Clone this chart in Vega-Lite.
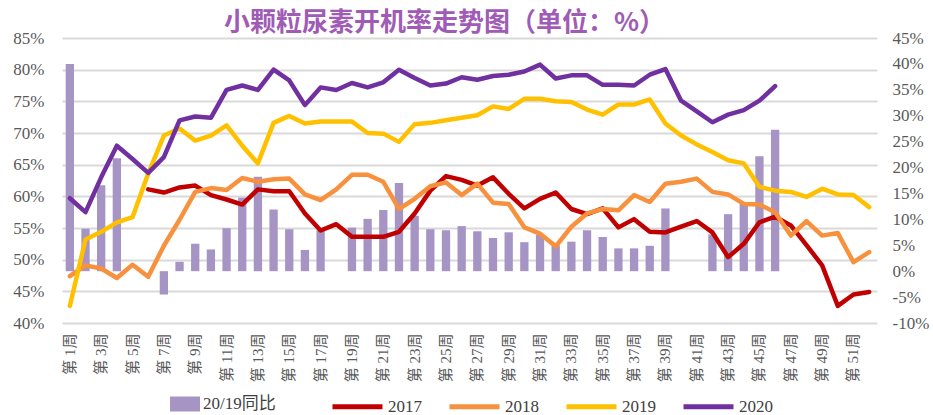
{
  "$schema": "https://vega.github.io/schema/vega-lite/v6.json",
  "width": 815,
  "height": 285,
  "autosize": {"type": "none"},
  "padding": {"left": 62, "top": 38, "right": 56, "bottom": 92},
  "background": "white",
  "title": {
    "text": "小颗粒尿素开机率走势图（单位：%）",
    "font": "Noto Sans CJK SC",
    "fontSize": 26,
    "fontWeight": "bold",
    "color": "#9F5BB5",
    "anchor": "middle",
    "dx": -25,
    "offset": -7
  },
  "datasets": {
    "bars": [
      {"week": 1, "v": 40.0}, {"week": 2, "v": 8.2}, {"week": 3, "v": 16.6}, {"week": 4, "v": 21.8},
      {"week": 7, "v": -4.5}, {"week": 8, "v": 1.8}, {"week": 9, "v": 5.3}, {"week": 10, "v": 4.2},
      {"week": 11, "v": 8.3}, {"week": 12, "v": 14.2}, {"week": 13, "v": 18.2}, {"week": 14, "v": 11.9},
      {"week": 15, "v": 8.1}, {"week": 16, "v": 4.1}, {"week": 17, "v": 7.9}, {"week": 19, "v": 8.4},
      {"week": 20, "v": 10.1}, {"week": 21, "v": 11.8}, {"week": 22, "v": 17.0}, {"week": 23, "v": 10.7},
      {"week": 24, "v": 8.1}, {"week": 25, "v": 7.9}, {"week": 26, "v": 8.7}, {"week": 27, "v": 7.7},
      {"week": 28, "v": 6.4}, {"week": 29, "v": 7.5}, {"week": 30, "v": 5.6}, {"week": 31, "v": 7.0},
      {"week": 32, "v": 5.0}, {"week": 33, "v": 5.7}, {"week": 34, "v": 7.9}, {"week": 35, "v": 6.6},
      {"week": 36, "v": 4.4}, {"week": 37, "v": 4.4}, {"week": 38, "v": 4.9}, {"week": 39, "v": 12.1},
      {"week": 42, "v": 7.1}, {"week": 43, "v": 11.0}, {"week": 44, "v": 13.0}, {"week": 45, "v": 22.2},
      {"week": 46, "v": 27.3}
    ],
    "lines": [
      {"year": "2017", "week": 6, "v": 61.1}, {"year": "2017", "week": 7, "v": 60.6}, {"year": "2017", "week": 8, "v": 61.4},
      {"year": "2017", "week": 9, "v": 61.7}, {"year": "2017", "week": 10, "v": 60.2}, {"year": "2017", "week": 11, "v": 59.5},
      {"year": "2017", "week": 12, "v": 58.7}, {"year": "2017", "week": 13, "v": 61.1}, {"year": "2017", "week": 14, "v": 60.8},
      {"year": "2017", "week": 15, "v": 60.8}, {"year": "2017", "week": 16, "v": 57.3}, {"year": "2017", "week": 17, "v": 54.6},
      {"year": "2017", "week": 18, "v": 55.6}, {"year": "2017", "week": 19, "v": 53.6}, {"year": "2017", "week": 20, "v": 53.6},
      {"year": "2017", "week": 21, "v": 53.6}, {"year": "2017", "week": 22, "v": 54.4}, {"year": "2017", "week": 23, "v": 57.3},
      {"year": "2017", "week": 24, "v": 60.9}, {"year": "2017", "week": 25, "v": 63.2}, {"year": "2017", "week": 26, "v": 62.6},
      {"year": "2017", "week": 27, "v": 61.7}, {"year": "2017", "week": 28, "v": 63.0}, {"year": "2017", "week": 29, "v": 60.4},
      {"year": "2017", "week": 30, "v": 58.1}, {"year": "2017", "week": 31, "v": 59.6}, {"year": "2017", "week": 32, "v": 60.6},
      {"year": "2017", "week": 33, "v": 58.0}, {"year": "2017", "week": 34, "v": 57.2}, {"year": "2017", "week": 35, "v": 58.1},
      {"year": "2017", "week": 36, "v": 55.1}, {"year": "2017", "week": 37, "v": 56.4}, {"year": "2017", "week": 38, "v": 54.4},
      {"year": "2017", "week": 39, "v": 54.3}, {"year": "2017", "week": 40, "v": 55.2}, {"year": "2017", "week": 41, "v": 56.1},
      {"year": "2017", "week": 42, "v": 54.3}, {"year": "2017", "week": 43, "v": 50.4}, {"year": "2017", "week": 44, "v": 52.5},
      {"year": "2017", "week": 45, "v": 55.9}, {"year": "2017", "week": 46, "v": 56.8}, {"year": "2017", "week": 47, "v": 55.4},
      {"year": "2017", "week": 48, "v": 52.3}, {"year": "2017", "week": 49, "v": 49.1}, {"year": "2017", "week": 50, "v": 42.7},
      {"year": "2017", "week": 51, "v": 44.5}, {"year": "2017", "week": 52, "v": 44.9},

      {"year": "2018", "week": 1, "v": 47.4}, {"year": "2018", "week": 2, "v": 49.1}, {"year": "2018", "week": 3, "v": 48.6},
      {"year": "2018", "week": 4, "v": 47.1}, {"year": "2018", "week": 5, "v": 49.2}, {"year": "2018", "week": 6, "v": 47.3},
      {"year": "2018", "week": 7, "v": 52.2}, {"year": "2018", "week": 8, "v": 56.3}, {"year": "2018", "week": 9, "v": 60.7},
      {"year": "2018", "week": 10, "v": 61.3}, {"year": "2018", "week": 11, "v": 61.0}, {"year": "2018", "week": 12, "v": 62.9},
      {"year": "2018", "week": 13, "v": 62.3}, {"year": "2018", "week": 14, "v": 62.7}, {"year": "2018", "week": 15, "v": 62.8},
      {"year": "2018", "week": 16, "v": 60.3}, {"year": "2018", "week": 17, "v": 59.4}, {"year": "2018", "week": 18, "v": 61.1},
      {"year": "2018", "week": 19, "v": 63.4}, {"year": "2018", "week": 20, "v": 63.4}, {"year": "2018", "week": 21, "v": 62.3},
      {"year": "2018", "week": 22, "v": 58.0}, {"year": "2018", "week": 23, "v": 59.6}, {"year": "2018", "week": 24, "v": 61.6},
      {"year": "2018", "week": 25, "v": 62.2}, {"year": "2018", "week": 26, "v": 60.2}, {"year": "2018", "week": 27, "v": 62.0},
      {"year": "2018", "week": 28, "v": 59.0}, {"year": "2018", "week": 29, "v": 58.8}, {"year": "2018", "week": 30, "v": 55.1},
      {"year": "2018", "week": 31, "v": 54.1}, {"year": "2018", "week": 32, "v": 52.1}, {"year": "2018", "week": 33, "v": 55.2},
      {"year": "2018", "week": 34, "v": 57.3}, {"year": "2018", "week": 35, "v": 58.0}, {"year": "2018", "week": 36, "v": 57.8},
      {"year": "2018", "week": 37, "v": 60.2}, {"year": "2018", "week": 38, "v": 59.1}, {"year": "2018", "week": 39, "v": 62.0},
      {"year": "2018", "week": 40, "v": 62.3}, {"year": "2018", "week": 41, "v": 62.8}, {"year": "2018", "week": 42, "v": 60.7},
      {"year": "2018", "week": 43, "v": 60.3}, {"year": "2018", "week": 44, "v": 58.8}, {"year": "2018", "week": 45, "v": 58.7},
      {"year": "2018", "week": 46, "v": 57.5}, {"year": "2018", "week": 47, "v": 53.8}, {"year": "2018", "week": 48, "v": 56.1},
      {"year": "2018", "week": 49, "v": 53.8}, {"year": "2018", "week": 50, "v": 54.2}, {"year": "2018", "week": 51, "v": 49.6},
      {"year": "2018", "week": 52, "v": 51.2},

      {"year": "2019", "week": 1, "v": 42.7}, {"year": "2019", "week": 2, "v": 53.2}, {"year": "2019", "week": 3, "v": 54.4},
      {"year": "2019", "week": 4, "v": 55.9}, {"year": "2019", "week": 5, "v": 56.7}, {"year": "2019", "week": 6, "v": 63.6},
      {"year": "2019", "week": 7, "v": 69.6}, {"year": "2019", "week": 8, "v": 70.7}, {"year": "2019", "week": 9, "v": 68.8},
      {"year": "2019", "week": 10, "v": 69.6}, {"year": "2019", "week": 11, "v": 71.2}, {"year": "2019", "week": 12, "v": 68.0},
      {"year": "2019", "week": 13, "v": 65.2}, {"year": "2019", "week": 14, "v": 71.6}, {"year": "2019", "week": 15, "v": 72.7},
      {"year": "2019", "week": 16, "v": 71.5}, {"year": "2019", "week": 17, "v": 71.8}, {"year": "2019", "week": 18, "v": 71.8},
      {"year": "2019", "week": 19, "v": 71.8}, {"year": "2019", "week": 20, "v": 70.0}, {"year": "2019", "week": 21, "v": 69.9},
      {"year": "2019", "week": 22, "v": 68.6}, {"year": "2019", "week": 23, "v": 71.4}, {"year": "2019", "week": 24, "v": 71.6},
      {"year": "2019", "week": 25, "v": 72.0}, {"year": "2019", "week": 26, "v": 72.4}, {"year": "2019", "week": 27, "v": 72.8},
      {"year": "2019", "week": 28, "v": 74.2}, {"year": "2019", "week": 29, "v": 73.8}, {"year": "2019", "week": 30, "v": 75.4},
      {"year": "2019", "week": 31, "v": 75.4}, {"year": "2019", "week": 32, "v": 75.0}, {"year": "2019", "week": 33, "v": 74.9},
      {"year": "2019", "week": 34, "v": 73.7}, {"year": "2019", "week": 35, "v": 72.9}, {"year": "2019", "week": 36, "v": 74.5},
      {"year": "2019", "week": 37, "v": 74.5}, {"year": "2019", "week": 38, "v": 75.3}, {"year": "2019", "week": 39, "v": 71.5},
      {"year": "2019", "week": 40, "v": 69.6}, {"year": "2019", "week": 41, "v": 68.2}, {"year": "2019", "week": 42, "v": 67.0},
      {"year": "2019", "week": 43, "v": 65.7}, {"year": "2019", "week": 44, "v": 65.2}, {"year": "2019", "week": 45, "v": 61.5},
      {"year": "2019", "week": 46, "v": 60.9}, {"year": "2019", "week": 47, "v": 60.7}, {"year": "2019", "week": 48, "v": 59.9},
      {"year": "2019", "week": 49, "v": 61.2}, {"year": "2019", "week": 50, "v": 60.3}, {"year": "2019", "week": 51, "v": 60.2},
      {"year": "2019", "week": 52, "v": 58.3},

      {"year": "2020", "week": 1, "v": 59.7}, {"year": "2020", "week": 2, "v": 57.5}, {"year": "2020", "week": 3, "v": 63.0},
      {"year": "2020", "week": 4, "v": 68.0}, {"year": "2020", "week": 5, "v": 65.9}, {"year": "2020", "week": 6, "v": 63.7},
      {"year": "2020", "week": 7, "v": 66.2}, {"year": "2020", "week": 8, "v": 72.0}, {"year": "2020", "week": 9, "v": 72.6},
      {"year": "2020", "week": 10, "v": 72.4}, {"year": "2020", "week": 11, "v": 76.8}, {"year": "2020", "week": 12, "v": 77.5},
      {"year": "2020", "week": 13, "v": 76.8}, {"year": "2020", "week": 14, "v": 80.0}, {"year": "2020", "week": 15, "v": 78.3},
      {"year": "2020", "week": 16, "v": 74.4}, {"year": "2020", "week": 17, "v": 77.2}, {"year": "2020", "week": 18, "v": 76.8},
      {"year": "2020", "week": 19, "v": 77.9}, {"year": "2020", "week": 20, "v": 77.2}, {"year": "2020", "week": 21, "v": 78.0},
      {"year": "2020", "week": 22, "v": 80.0}, {"year": "2020", "week": 23, "v": 78.7}, {"year": "2020", "week": 24, "v": 77.5},
      {"year": "2020", "week": 25, "v": 77.8}, {"year": "2020", "week": 26, "v": 78.8}, {"year": "2020", "week": 27, "v": 78.4},
      {"year": "2020", "week": 28, "v": 79.0}, {"year": "2020", "week": 29, "v": 79.2}, {"year": "2020", "week": 30, "v": 79.7},
      {"year": "2020", "week": 31, "v": 80.8}, {"year": "2020", "week": 32, "v": 78.6}, {"year": "2020", "week": 33, "v": 79.1},
      {"year": "2020", "week": 34, "v": 79.1}, {"year": "2020", "week": 35, "v": 77.6}, {"year": "2020", "week": 36, "v": 77.6},
      {"year": "2020", "week": 37, "v": 77.5}, {"year": "2020", "week": 38, "v": 79.2}, {"year": "2020", "week": 39, "v": 80.1},
      {"year": "2020", "week": 40, "v": 75.1}, {"year": "2020", "week": 41, "v": 73.4}, {"year": "2020", "week": 42, "v": 71.7},
      {"year": "2020", "week": 43, "v": 72.9}, {"year": "2020", "week": 44, "v": 73.6}, {"year": "2020", "week": 45, "v": 75.1},
      {"year": "2020", "week": 46, "v": 77.4}
    ]
  },
  "config": {
    "view": {"stroke": null},
    "axis": {
      "labelFont": "'Liberation Serif', 'Noto Sans CJK SC'",
      "labelColor": "#595959",
      "domain": false,
      "ticks": false,
      "title": null
    },
    "legend": {
      "orient": "none",
      "direction": "horizontal",
      "title": null,
      "labelFont": "'Liberation Serif', 'Noto Sans CJK SC'",
      "labelFontSize": 17,
      "labelColor": "#404040",
      "labelOffset": 3,
      "columnPadding": 17
    }
  },
  "encoding": {
    "x": {
      "field": "week",
      "type": "ordinal",
      "scale": {"paddingInner": 0.47, "paddingOuter": 0.235},
      "axis": {
        "values": [1,3,5,7,9,11,13,15,17,19,21,23,25,27,29,31,33,35,37,39,41,43,45,47,49,51],
        "labelExpr": "'第 ' + datum.value + '周'",
        "labelAngle": -90,
        "labelFontSize": 15,
        "labelPadding": 10
      }
    }
  },
  "layer": [
    {
      "data": {"name": "bars"},
      "mark": {"type": "bar"},
      "encoding": {
        "y": {
          "field": "v",
          "type": "quantitative",
          "scale": {"domain": [-10, 45], "nice": false},
          "axis": {
            "orient": "right",
            "values": [-10,-5,0,5,10,15,20,25,30,35,40,45],
            "labelExpr": "datum.value + '%'",
            "labelFontSize": 17,
            "labelPadding": 15,
            "grid": false
          }
        },
        "fill": {
          "datum": "20/19同比",
          "type": "nominal",
          "scale": {"range": ["#A594C4"]},
          "legend": {"symbolType": "M-1,-0.5H1V0.5H-1Z", "symbolSize": 900, "symbolStrokeWidth": 0, "legendX": 108, "legendY": 351}
        }
      }
    },
    {
      "data": {"name": "lines"},
      "mark": {"type": "line", "strokeWidth": 4.5, "strokeJoin": "round", "strokeCap": "round"},
      "encoding": {
        "y": {
          "field": "v",
          "type": "quantitative",
          "scale": {"domain": [40, 85], "nice": false, "zero": false},
          "axis": {
            "orient": "left",
            "values": [40,45,50,55,60,65,70,75,80,85],
            "labelExpr": "datum.value + '%'",
            "labelFontSize": 17,
            "labelPadding": 18,
            "grid": true,
            "gridColor": "#D9D9D9",
            "gridWidth": 1.8
          }
        },
        "stroke": {
          "field": "year",
          "type": "nominal",
          "scale": {"domain": ["2017","2018","2019","2020"], "range": ["#C00000","#F8913D","#FFC000","#7030A0"]},
          "legend": {"symbolType": "stroke", "symbolSize": 2500, "symbolStrokeWidth": 5, "legendX": 268, "legendY": 341}
        }
      }
    }
  ],
  "resolve": {"scale": {"y": "independent"}}
}
